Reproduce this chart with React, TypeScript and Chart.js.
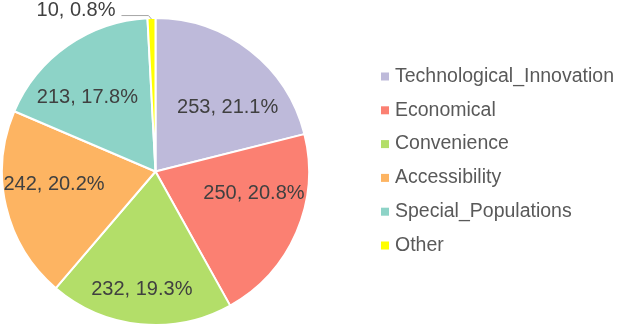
import React, { useEffect, useRef } from "react";
import { Chart, registerables } from "chart.js";

Chart.register(...registerables);

const categories = [
  "Technological_Innovation",
  "Economical",
  "Convenience",
  "Accessibility",
  "Special_Populations",
  "Other",
];
const counts = [253, 250, 232, 242, 213, 10];
const colors = ["#bebada", "#fb8072", "#b3de69", "#fdb462", "#8dd3c7", "#ffff00"];
// label placement: radius fraction and angular shift (deg) relative to slice middle
const labelRadius = [0.63, 0.657, 0.775, 0.667, 0.655, 0];
const labelShift = [10.3, -10.9, 0.9, 5.7, -7.7, 0];

const FONT = "'Liberation Sans', Arial, sans-serif";

const labelPlugin = {
  id: "sliceLabels",
  afterDatasetsDraw(chart: any) {
    const ctx = chart.ctx;
    const meta = chart.getDatasetMeta(0);
    const data = chart.data.datasets[0].data as number[];
    const total = data.reduce((a, b) => a + b, 0);
    ctx.save();
    ctx.fillStyle = "#404040";
    ctx.font = `20px ${FONT}`;
    ctx.textBaseline = "middle";
    meta.data.forEach((arc: any, i: number) => {
      const { x, y, startAngle, endAngle, outerRadius } = arc.getProps(
        ["x", "y", "startAngle", "endAngle", "outerRadius"],
        true
      );
      const pct = ((data[i] / total) * 100).toFixed(1);
      const text = `${data[i]}, ${pct}%`;
      const mid = (startAngle + endAngle) / 2;
      if (labelRadius[i] > 0) {
        const a = mid + (labelShift[i] * Math.PI) / 180;
        const r = outerRadius * labelRadius[i];
        ctx.textAlign = "center";
        ctx.fillText(text, x + r * Math.cos(a), y + r * Math.sin(a));
      } else {
        const px = x + outerRadius * Math.cos(mid);
        const py = y + outerRadius * Math.sin(mid);
        ctx.strokeStyle = "#a6a6a6";
        ctx.lineWidth = 1;
        ctx.beginPath();
        ctx.moveTo(px, py + 1);
        ctx.lineTo(px - 3, py - 2.5);
        ctx.lineTo(px - 30, py - 2.5);
        ctx.stroke();
        ctx.textAlign = "right";
        ctx.fillText(text, px - 36, py - 8);
      }
    });
    ctx.restore();
  },
};

const legendPlugin = {
  id: "sideLegend",
  afterDraw(chart: any) {
    const ctx = chart.ctx;
    const labels = chart.data.labels as string[];
    const bg = chart.data.datasets[0].backgroundColor as string[];
    ctx.save();
    ctx.font = `19.5px ${FONT}`;
    ctx.textBaseline = "middle";
    ctx.textAlign = "left";
    labels.forEach((lab, i) => {
      const cy = 76.5 + i * 33.8;
      ctx.fillStyle = bg[i];
      ctx.fillRect(381, cy - 4, 8, 8);
      ctx.fillStyle = "#595959";
      ctx.fillText(lab, 395, cy);
    });
    ctx.restore();
  },
};

export default function App() {
  const ref = useRef<HTMLCanvasElement>(null);
  useEffect(() => {
    if (!ref.current) return;
    const chart = new Chart(ref.current, {
      type: "pie",
      data: {
        labels: categories,
        datasets: [
          {
            data: counts,
            backgroundColor: colors,
            borderColor: "#ffffff",
            borderWidth: 2,
          },
        ],
      },
      options: {
        responsive: false,
        animation: false,
        devicePixelRatio: 1,
        layout: { padding: { left: 1, top: 17, right: 307, bottom: 2 } },
        plugins: {
          legend: { display: false },
          tooltip: { enabled: false },
        },
      },
      plugins: [labelPlugin, legendPlugin],
    });
    return () => chart.destroy();
  }, []);
  return (
    <div style={{ position: "fixed", left: 0, top: 0, width: 617, height: 328, background: "#ffffff" }}>
      <canvas ref={ref} width={617} height={328} />
    </div>
  );
}
